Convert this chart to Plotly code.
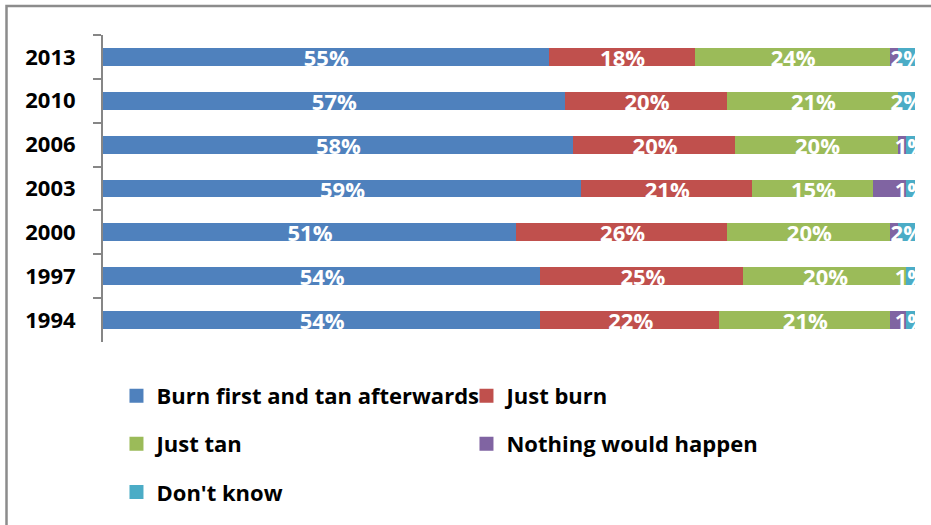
import plotly.graph_objects as go

years = ["2013", "2010", "2006", "2003", "2000", "1997", "1994"]
series_names = ["Burn first and tan afterwards", "Just burn", "Just tan",
                "Nothing would happen", "Don't know"]
burn_then_tan = [55, 57, 58, 59, 51, 54, 54]
just_burn = [18, 20, 20, 21, 26, 25, 22]
just_tan = [24, 21, 20, 15, 20, 20, 21]
nothing = [1, 0, 1, 4, 1, 0, 2]
dont_know = [2, 2, 1, 1, 2, 1, 1]

colors = ["#4F81BD", "#C0504D", "#9BBB59", "#8064A2", "#4BACC6"]
values = [burn_then_tan, just_burn, just_tan, nothing, dont_know]
legend_ids = ["legend", "legend", "legend2", "legend2", "legend3"]
show_labels = [True, True, True, False, True]

FONT = "Open Sans"

fig = go.Figure()
for name, vals, col, lg, lab in zip(series_names, values, colors, legend_ids, show_labels):
    fig.add_trace(go.Bar(
        y=years, x=vals, name=name, orientation="h",
        marker=dict(color=col, line=dict(width=2, color=col)),
        text=[f"{v}%" for v in vals] if lab else None,
        textposition="inside" if lab else "none",
        insidetextanchor="middle",
        constraintext="none",
        textangle=0,
        textfont=dict(family=FONT, size=22, color="white", weight="bold"),
        cliponaxis=True,
        legend=lg,
        hoverinfo="skip",
    ))

legend_common = dict(
    orientation="h", xanchor="left", yanchor="middle", traceorder="normal",
    font=dict(family=FONT, size=22, color="black", weight="bold"),
    entrywidth=305, entrywidthmode="pixels",
    bgcolor="rgba(0,0,0,0)", itemclick=False, itemdoubleclick=False,
)

fig.update_layout(
    width=931, height=525,
    margin=dict(l=103, r=16, t=35, b=183, pad=0),
    paper_bgcolor="white", plot_bgcolor="white",
    barmode="stack", bargap=0.636,
    showlegend=True,
    legend=dict(x=0.0166, y=-0.176, **legend_common),
    legend2=dict(x=0.0166, y=-0.332, **legend_common),
    legend3=dict(x=0.0166, y=-0.489, **legend_common),
    xaxis=dict(range=[0, 100], visible=False, showgrid=False, zeroline=False),
    yaxis=dict(
        autorange="reversed", type="category",
        showline=True, linecolor="#868686", linewidth=2,
        ticks="outside", ticklen=8, tickcolor="#868686", tickwidth=2,
        tickson="boundaries", ticklabelstandoff=21,
        tickfont=dict(family=FONT, size=22, color="black", weight="bold"),
        showgrid=False, zeroline=False,
    ),
    shapes=[dict(
        type="rect", xref="paper", yref="paper",
        x0=(6.5 - 103) / 812, x1=(945 - 103) / 812,
        y0=(342 - 540) / 307, y1=(342 - 6) / 307,
        line=dict(color="#8C8C8C", width=2.5), fillcolor="rgba(0,0,0,0)",
        layer="above",
    )],
)

fig.write_html("out.html", config={"displayModeBar": False},
               post_script="document.body.style.margin='0px';document.body.style.overflow='hidden';")
